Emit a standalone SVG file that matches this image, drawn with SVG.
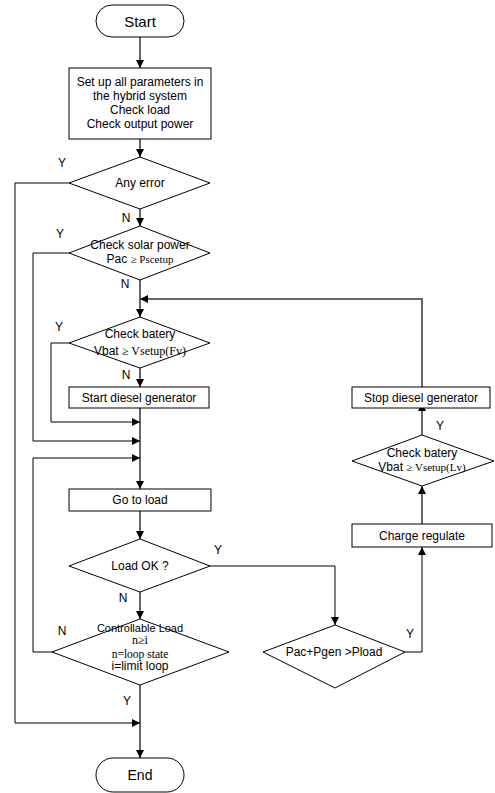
<svg xmlns="http://www.w3.org/2000/svg" width="495" height="793" viewBox="0 0 495 793">
<style>
.s{fill:#fff;stroke:#000;stroke-width:1}
.t{font-family:"Liberation Sans",Arial,sans-serif;font-size:12px;text-anchor:middle;dominant-baseline:central;fill:#000}
.m{font-family:"Liberation Serif","Times New Roman",serif;font-size:11px}
.c{fill:none;stroke:#000;stroke-width:1}
.g{fill:none;stroke:#666;stroke-width:2}
</style>
<defs>
<marker id="a" viewBox="0 0 10 10" refX="10" refY="5" markerWidth="8" markerHeight="8" markerUnits="userSpaceOnUse" orient="auto"><path d="M0,0L10,5L0,10z" fill="#000"/></marker>
</defs>
<rect width="495" height="793" fill="#fff"/>
<g id="connectors">
<path class="g" d="M140,37V68" marker-end="url(#a)"/>
<path class="g" d="M140,139V157" marker-end="url(#a)"/>
<path class="g" d="M140,209V226" marker-end="url(#a)"/>
<path class="g" d="M140,280V317" marker-end="url(#a)"/>
<path class="g" d="M140,368V387" marker-end="url(#a)"/>
<path class="g" d="M140,408V489" marker-end="url(#a)"/>
<path class="g" d="M140,511V539" marker-end="url(#a)"/>
<path class="g" d="M140,592V619" marker-end="url(#a)"/>
<path class="g" d="M140,685V758" marker-end="url(#a)"/>
<path class="c" d="M69,183H15V723H140" marker-end="url(#a)"/>
<path class="c" d="M69,253H33V441H140" marker-end="url(#a)"/>
<path class="c" d="M69,343H51V422H140" marker-end="url(#a)"/>
<path class="c" d="M52,652H33V458H140" marker-end="url(#a)"/>
<path class="c" d="M210,566H335V625" marker-end="url(#a)"/>
<path class="c" d="M405,652H422V547" marker-end="url(#a)"/>
<path class="g" d="M422,524V486" marker-end="url(#a)"/>
<path class="g" d="M422,435V403" marker-end="url(#a)"/>
<path class="g" d="M422,387V299H140" marker-end="url(#a)"/>
</g>
<g id="start"><rect class="s" x="96" y="5" width="88" height="32" rx="16"/><text class="t" x="140" y="21" style="font-size:15px">Start</text></g>
<g id="setup"><rect class="s" x="69" y="68" width="142" height="71"/>
<text class="t" x="140" y="82">Set up all parameters in</text>
<text class="t" x="140" y="96">the hybrid system</text>
<text class="t" x="140" y="110">Check load</text>
<text class="t" x="140" y="124">Check output power</text></g>
<g id="anyerror"><polygon class="s" points="140,157 210,183 140,209 69,183"/><text class="t" x="140" y="183">Any error</text></g>
<g id="solar"><polygon class="s" points="140,226 210,253 140,280 69,253"/>
<text class="t" x="140" y="245">Check solar power</text>
<text class="t" x="140" y="259">Pac <tspan class="m">≥ Pscetup</tspan></text></g>
<g id="batfv"><polygon class="s" points="140,317 210,343 140,368 69,343"/>
<text class="t" x="140" y="334">Check batery</text>
<text class="t" x="140" y="351">Vbat <tspan class="m" style="font-size:12px">≥ Vsetup(Fv)</tspan></text></g>
<g id="startgen"><rect class="s" x="69" y="387" width="140" height="21"/><text class="t" x="139" y="397.5">Start diesel generator</text></g>
<g id="goload"><rect class="s" x="69" y="489" width="142" height="22"/><text class="t" x="140" y="500">Go to load</text></g>
<g id="loadok"><polygon class="s" points="140,539 210,566 140,592 69,566"/><text class="t" x="140" y="566">Load OK ?</text></g>
<g id="ctrl"><polygon class="s" points="140,619 229,652 140,685 52,652"/>
<text class="t" x="140" y="628" style="font-size:11px">Controllable Load</text>
<text class="t m" x="140" y="640" style="font-size:12px">n≥i</text>
<text class="t m" x="140" y="653.5" style="font-size:11.5px">n=loop state</text>
<text class="t" x="140" y="666">i=limit loop</text></g>
<g id="end"><rect class="s" x="96" y="758" width="88" height="34" rx="17"/><text class="t" x="140" y="775" style="font-size:14px">End</text></g>
<g id="pac"><polygon class="s" points="335,625 405,652 335,688 263,652"/><text class="t" x="334" y="652">Pac+Pgen &gt;Pload</text></g>
<g id="charge"><rect class="s" x="352" y="524" width="140" height="23"/><text class="t" x="422" y="535.5">Charge regulate</text></g>
<g id="batlv"><polygon class="s" points="422,435 494,461 422,486 352,461"/>
<text class="t" x="422" y="453">Check batery</text>
<text class="t" x="422" y="467">Vbat <tspan class="m">≥ Vsetup(Lv)</tspan></text></g>
<g id="stopgen"><rect class="s" x="352" y="387" width="138" height="21"/><text class="t" x="421" y="397.5">Stop diesel generator</text></g>
<g id="labels">
<text class="t" x="62" y="163">Y</text>
<text class="t" x="126" y="218">N</text>
<text class="t" x="60" y="234">Y</text>
<text class="t" x="125" y="284">N</text>
<text class="t" x="59" y="327">Y</text>
<text class="t" x="126" y="375">N</text>
<text class="t" x="218" y="550">Y</text>
<text class="t" x="123" y="598">N</text>
<text class="t" x="62" y="631">N</text>
<text class="t" x="127" y="701">Y</text>
<text class="t" x="410" y="634">Y</text>
<text class="t" x="440" y="426">Y</text>
</g>
</svg>
